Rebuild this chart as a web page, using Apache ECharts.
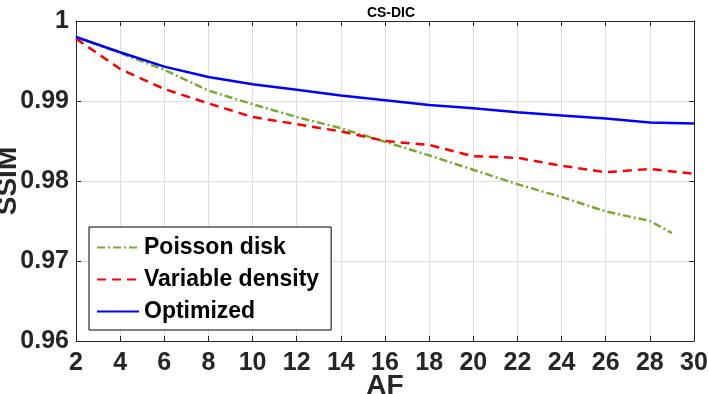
<!DOCTYPE html>
<html>
<head>
<meta charset="utf-8">
<script src="https://cdn.jsdelivr.net/npm/echarts@6/dist/echarts.min.js"></script>
<style>
html,body{margin:0;padding:0;background:#fff;}
#c{width:708px;height:394px;}
</style>
</head>
<body>
<div id="c"></div>
<script>
const title = 'CS-DIC';
const xName = 'AF';
const yName = 'SSIM';
const afEven = [2, 4, 6, 8, 10, 12, 14, 16, 18, 20, 22, 24, 26, 28, 30];
const afPoisson = [2, 4, 6, 8, 10, 12, 14, 16, 18, 20, 22, 24, 26, 28, 29];
const poissonDisk = [0.9980, 0.9960, 0.9939, 0.9913, 0.9896, 0.9880, 0.9866, 0.9849, 0.9832, 0.9814, 0.9796, 0.9780, 0.9762, 0.9750, 0.9735];
const variableDensity = [0.9978, 0.9940, 0.9915, 0.9897, 0.9880, 0.9871, 0.9862, 0.9850, 0.9845, 0.9831, 0.9829, 0.9819, 0.9811, 0.9815, 0.9809];
const optimized = [0.9980, 0.9961, 0.9943, 0.9930, 0.9921, 0.9914, 0.9907, 0.9901, 0.9895, 0.9891, 0.9886, 0.9882, 0.9878, 0.9873, 0.9872];
const seriesNames = ['Poisson disk', 'Variable density', 'Optimized'];

const pair = (xs, ys) => xs.map((x, i) => [x, ys[i]]);
const FONT = '"Liberation Sans", Arial, Helvetica, sans-serif';
const AX = '#262626';

const chart = echarts.init(document.getElementById('c'), null, {renderer: 'canvas'});
const axisCommon = {
  axisLine: {show: true, lineStyle: {color: AX, width: 1}},
  axisTick: {show: true, inside: true, length: 5, lineStyle: {color: AX}},
};
chart.setOption({
  animation: false,
  backgroundColor: '#fff',
  title: {
    text: title, left: 386, top: 1, textAlign: 'center',
    textStyle: {fontFamily: FONT, fontWeight: 'bold', fontSize: 14, color: '#000'}
  },
  grid: {left: 76, right: 14, top: 21, bottom: 53, containLabel: false, outerBoundsMode: 'none'},
  legend: {
    orient: 'vertical', left: 89, top: 227,
    padding: [9, 12, 7, 7], itemGap: 9, itemWidth: 42, itemHeight: 22,
    backgroundColor: '#fff', borderColor: '#000', borderWidth: 1, borderRadius: 0,
    itemStyle: {opacity: 0},
    textStyle: {fontFamily: FONT, fontWeight: 'bold', fontSize: 23, color: '#000'},
    data: seriesNames
  },
  xAxis: [
    Object.assign({
      type: 'value', min: 2, max: 30, interval: 2,
      name: xName, nameLocation: 'middle', nameGap: 31, nameMoveOverlap: false,
      nameTextStyle: {fontFamily: FONT, fontWeight: 'bold', fontSize: 28, color: AX},
      axisLabel: {fontFamily: FONT, fontWeight: 'bold', fontSize: 25, color: AX, margin: 10},
      splitLine: {show: true, lineStyle: {color: '#dedede', width: 1}}
    }, axisCommon),
    Object.assign({
      type: 'value', min: 2, max: 30, interval: 2, position: 'top',
      axisLabel: {show: false}, splitLine: {show: false}
    }, axisCommon)
  ],
  yAxis: [
    Object.assign({
      type: 'value', min: 0.96, max: 1, interval: 0.01,
      name: yName, nameLocation: 'middle', nameGap: 54, nameRotate: 90, nameMoveOverlap: false,
      nameTextStyle: {fontFamily: FONT, fontWeight: 'bold', fontSize: 28, color: AX},
      axisLabel: {fontFamily: FONT, fontWeight: 'bold', fontSize: 25, color: AX, margin: 7,
        formatter: v => String(+v.toFixed(2))},
      splitLine: {show: true, lineStyle: {color: '#dedede', width: 1}}
    }, axisCommon),
    Object.assign({
      type: 'value', min: 0.96, max: 1, interval: 0.01, position: 'right',
      axisLabel: {show: false}, splitLine: {show: false}
    }, axisCommon)
  ],
  series: [
    {
      name: seriesNames[0], type: 'line', data: pair(afPoisson, poissonDisk),
      symbol: 'none', showSymbol: false, color: '#77AC30',
      lineStyle: {color: '#77AC30', width: 2.5, type: [8, 3, 2, 3]}
    },
    {
      name: seriesNames[1], type: 'line', data: pair(afEven, variableDensity),
      symbol: 'none', showSymbol: false, color: '#FF0000',
      lineStyle: {color: '#FF0000', width: 2.5, type: [9, 6]}
    },
    {
      name: seriesNames[2], type: 'line', data: pair(afEven, optimized),
      symbol: 'none', showSymbol: false, color: '#0000FF',
      lineStyle: {color: '#0000FF', width: 2.5, type: 'solid'}
    }
  ]
});
</script>
</body>
</html>
